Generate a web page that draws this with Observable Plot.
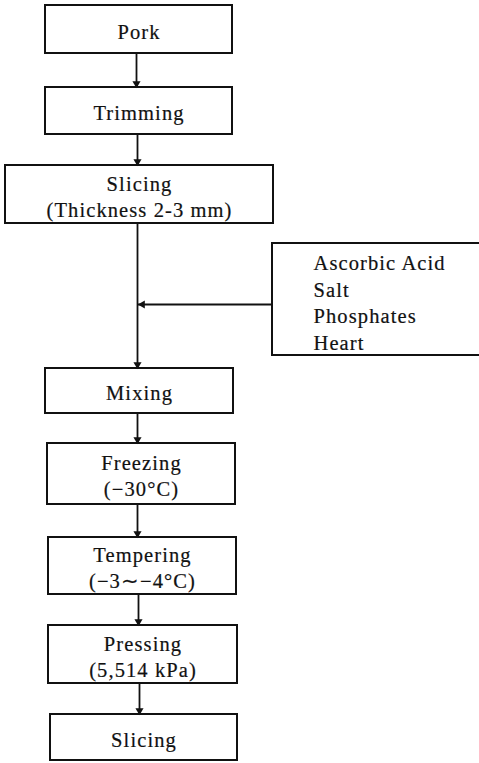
<!DOCTYPE html>
<html>
<head>
<meta charset="utf-8">
<script src="https://cdn.jsdelivr.net/npm/d3@7"></script>
<script src="https://cdn.jsdelivr.net/npm/@observablehq/plot@0.6"></script>
<style>
  html, body { margin: 0; padding: 0; background: #fff; }
  #chart svg { display: block; }
</style>
</head>
<body>
<div id="chart"></div>
<script>
// ---- content ----
const steps = [
  "Pork",
  "Trimming",
  "Slicing\n(Thickness 2-3 mm)",
  "Mixing",
  "Freezing\n(−30°C)",
  "Tempering\n(−3∼−4°C)",
  "Pressing\n(5,514 kPa)",
  "Slicing"
];
const additives = ["Ascorbic Acid", "Salt", "Phosphates", "Heart"];
const additiveJoinsBefore = "Mixing";

// ---- diagram layout (pixel units of the diagram) ----
const boxLeft   = [45, 45, 5, 45, 47, 48, 48, 50];
const boxRight  = [232, 232, 273, 233, 235, 236, 237, 237];
const boxTop    = [5, 87, 165, 368, 443, 537, 625, 714];
const boxBottom = [53, 134, 223, 413, 504, 594, 683, 760];
const spineX    = [136, 137, 137, 137, 137, 138, 139];
const sideBox   = {x1: 272, x2: 484, y1: 243, y2: 355, textX: 313, joinY: 304};

const W = 479, H = 763;

const boxes = steps.map((label, i) => ({
  label, x1: boxLeft[i], x2: boxRight[i], y1: boxTop[i], y2: boxBottom[i],
  cx: (boxLeft[i] + boxRight[i]) / 2, cy: (boxTop[i] + boxBottom[i]) / 2
}));
const links = spineX.map((x, i) => ({x, y1: boxBottom[i], y2: boxTop[i + 1]}));
const joinIdx = steps.indexOf(additiveJoinsBefore) - 1;
const sideLink = {x1: sideBox.x1, x2: spineX[joinIdx], y: sideBox.joinY};

const heads = links.map(d => ({x: d.x, y: d.y2 - 4, rot: 180}))
  .concat([{x: sideLink.x2 + 5, y: sideLink.y, rot: 270}]);

const ink = "#111";
const font = "'Liberation Serif', 'Times New Roman', serif";

const chart = Plot.plot({
  width: W, height: H,
  margin: 0,
  x: {domain: [0, W], range: [0, W], axis: null},
  y: {domain: [0, H], range: [0, H], axis: null},
  style: {background: "#fff", fontFamily: font, letterSpacing: "1.1px", color: ink},
  marks: [
    Plot.link(links, {x1: "x", x2: "x", y1: "y1", y2: "y2", stroke: ink, strokeWidth: 1.8}),
    Plot.link([sideLink], {x1: "x1", x2: "x2", y1: "y", y2: "y", stroke: ink, strokeWidth: 1.8}),
    Plot.rect(boxes, {x1: "x1", x2: "x2", y1: "y1", y2: "y2", fill: "#fff", stroke: ink, strokeWidth: 2}),
    Plot.rect([sideBox], {x1: "x1", x2: "x2", y1: "y1", y2: "y2", fill: "#fff", stroke: ink, strokeWidth: 2}),
    Plot.dot(heads, {x: "x", y: "y", symbol: "triangle", r: 3, fill: ink, stroke: "none", rotate: "rot"}),
    Plot.text(boxes, {x: "cx", y: "cy", text: "label", fontSize: 20.5, lineHeight: 1.25,
      textAnchor: "middle", lineAnchor: "middle", dy: 1, fill: ink, stroke: ink, strokeWidth: 0.2}),
    Plot.text([additives.join("\n")], {x: sideBox.textX, y: (sideBox.y1 + sideBox.y2) / 2, text: d => d,
      fontSize: 20.5, lineHeight: 1.3, textAnchor: "start", lineAnchor: "middle", dy: 2,
      fill: ink, stroke: ink, strokeWidth: 0.2})
  ]
});
document.getElementById("chart").appendChild(chart);
</script>
</body>
</html>
